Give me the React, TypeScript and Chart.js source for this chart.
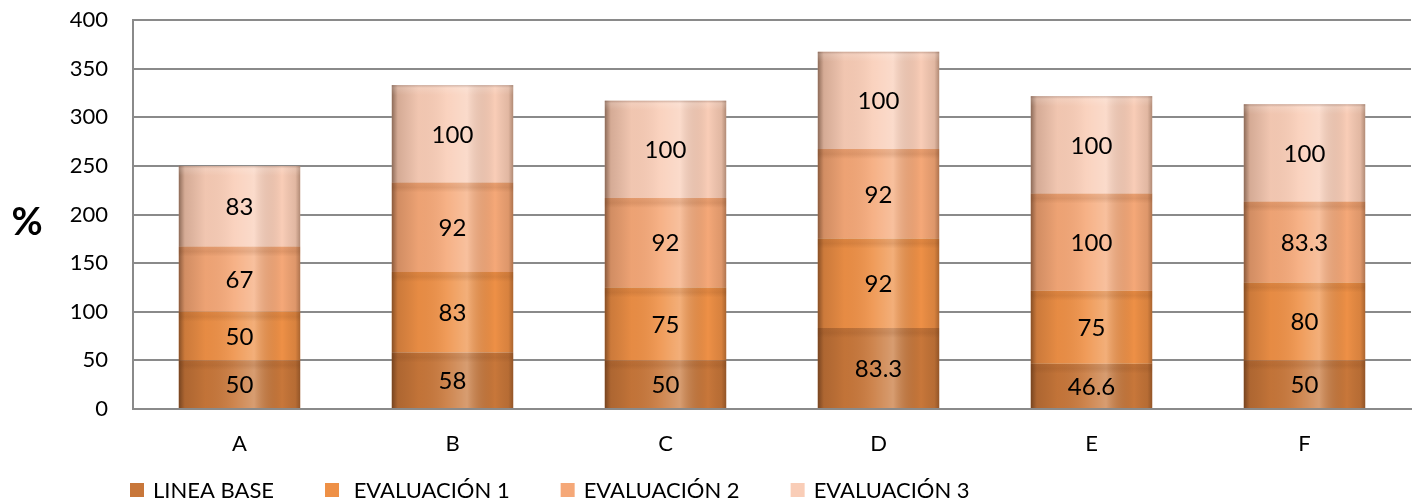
import { useEffect, useRef } from "react";
import { Chart, registerables } from "chart.js";

Chart.register(...registerables);

const FONT = "Lato, 'Open Sans', sans-serif";

const categories = ["A", "B", "C", "D", "E", "F"];
const lineaBase = [50, 58, 50, 83.3, 46.6, 50];
const evaluacion1 = [50, 83, 75, 92, 75, 80];
const evaluacion2 = [67, 92, 92, 92, 100, 83.3];
const evaluacion3 = [83, 100, 100, 100, 100, 100];

const seriesLabels = ["LINEA BASE", " EVALUACIÓN 1", "EVALUACIÓN 2", "EVALUACIÓN 3"];
const seriesColors = ["#C8773A", "#EE9046", "#F5A878", "#F9CDB7"];
const axisTitle = "%";

// Cylinder-like shading over each bar segment, plus value labels.
const cylinderPlugin = {
  id: "cylinder",
  afterDatasetsDraw(chart: any) {
    const ctx = chart.ctx;
    const n = chart.data.datasets.length;
    chart.data.datasets.forEach((ds: any, di: number) => {
      const meta = chart.getDatasetMeta(di);
      meta.data.forEach((bar: any, i: number) => {
        const { x, y, base, width } = bar.getProps(["x", "y", "base", "width"], true);
        const left = x - width / 2;
        const top = Math.min(y, base);
        const h = Math.abs(base - y);
        ctx.save();
        const g = ctx.createLinearGradient(left, 0, left + width, 0);
        g.addColorStop(0, "rgba(50,25,10,0.55)");
        g.addColorStop(0.05, "rgba(70,35,15,0.2)");
        g.addColorStop(0.22, "rgba(40,20,10,0.04)");
        g.addColorStop(0.45, "rgba(255,255,255,0.10)");
        g.addColorStop(0.62, "rgba(255,255,255,0.28)");
        g.addColorStop(0.85, "rgba(0,0,0,0.0)");
        g.addColorStop(0.96, "rgba(60,30,10,0.12)");
        g.addColorStop(1, "rgba(60,30,10,0.38)");
        ctx.fillStyle = g;
        ctx.fillRect(left, top, width, h);
        // faint band at the top of each segment
        const band = Math.min(10, h);
        const vg = ctx.createLinearGradient(0, top, 0, top + band);
        if (di === n - 1) {
          vg.addColorStop(0, "rgba(120,90,80,0.35)");
          vg.addColorStop(0.3, "rgba(255,255,255,0.15)");
          vg.addColorStop(1, "rgba(255,255,255,0)");
        } else {
          vg.addColorStop(0, "rgba(110,55,20,0.08)");
          vg.addColorStop(0.5, "rgba(110,55,20,0.14)");
          vg.addColorStop(1, "rgba(110,55,20,0)");
        }
        ctx.fillStyle = vg;
        ctx.fillRect(left, top, width, band);
        ctx.restore();

        // value label
        ctx.save();
        ctx.fillStyle = "#000";
        ctx.font = `24px ${FONT}`;
        ctx.textAlign = "center";
        ctx.textBaseline = "middle";
        ctx.fillText(String(ds.data[i]), x, top + h / 2 + 1);
        ctx.restore();
      });
    });
  },
  afterDraw(chart: any) {
    const ctx = chart.ctx;
    const area = chart.chartArea;
    // y-axis title
    ctx.save();
    ctx.fillStyle = "#000";
    ctx.font = `bold 38px ${FONT}`;
    ctx.textAlign = "center";
    ctx.textBaseline = "middle";
    ctx.fillText(axisTitle, area.left - 106, (area.top + area.bottom) / 2 + 8);
    ctx.restore();

    // legend row
    ctx.save();
    ctx.font = `22px ${FONT}`;
    ctx.textBaseline = "middle";
    ctx.textAlign = "left";
    let lx = area.left - 3;
    const ly = chart.height - 12;
    chart.data.datasets.forEach((ds: any) => {
      ctx.fillStyle = ds.backgroundColor;
      ctx.fillRect(lx, ly - 7, 14, 14);
      lx += 14 + 9;
      ctx.fillStyle = "#000";
      ctx.fillText(ds.label, lx, ly + 1);
      lx += ctx.measureText(ds.label).width + 51;
    });
    ctx.restore();
  },
};

export default function App() {
  const canvasRef = useRef<HTMLCanvasElement | null>(null);

  useEffect(() => {
    if (!canvasRef.current) return;
    const values = [lineaBase, evaluacion1, evaluacion2, evaluacion3];
    const chart = new Chart(canvasRef.current, {
      type: "bar",
      data: {
        labels: categories,
        datasets: values.map((data, k) => ({
          label: seriesLabels[k],
          data,
          backgroundColor: seriesColors[k],
          borderWidth: 0,
          categoryPercentage: 1,
          barPercentage: 0.57,
        })),
      },
      options: {
        animation: false,
        responsive: true,
        maintainAspectRatio: false,
        layout: { padding: { left: 0, right: 8, top: 20, bottom: 46 } },
        plugins: {
          legend: { display: false },
          tooltip: { enabled: false },
        },
        scales: {
          x: {
            stacked: true,
            grid: { display: false, drawTicks: false },
            border: { display: true, color: "#8A8A8A", width: 2 },
            ticks: { color: "#000", font: { family: FONT, size: 22 }, padding: 22 },
            afterFit: (s: any) => {
              s.height = 47;
            },
          },
          y: {
            stacked: true,
            min: 0,
            max: 400,
            ticks: { stepSize: 50, color: "#000", font: { family: FONT, size: 22 }, padding: 25 },
            grid: { color: "#8A8A8A", lineWidth: 2, drawTicks: false },
            border: { display: true, color: "#8A8A8A", width: 2 },
            afterFit: (s: any) => {
              s.width = 133;
              s.paddingTop = 0;
              s.paddingBottom = 0;
            },
          },
        },
      },
      plugins: [cylinderPlugin],
    });
    return () => chart.destroy();
  }, []);

  return (
    <div style={{ position: "fixed", left: 0, top: 0, width: 1419, height: 502, background: "#fff" }}>
      <canvas ref={canvasRef} />
    </div>
  );
}
